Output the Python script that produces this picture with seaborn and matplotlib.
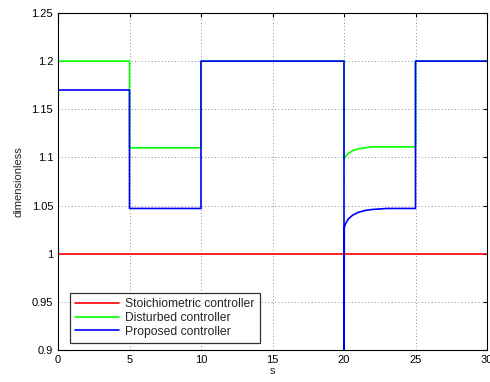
import matplotlib
matplotlib.use("Agg")
import matplotlib.pyplot as plt
import matplotlib.ticker as mticker
import seaborn as sns
import pandas as pd

sns.set_style("white")
plt.rcParams['font.family'] = ['Liberation Sans', 'DejaVu Sans']

# Time/value data (steps encoded with repeated time points)
t_stoich = [0, 30]
v_stoich = [1.0, 1.0]

t_dist = [0, 5, 5, 10, 10, 20, 20, 20.1, 20.3, 20.6, 21.0, 21.5, 22.0, 23.0, 25, 25, 30]
v_dist = [1.2, 1.2, 1.11, 1.11, 1.2, 1.2, 1.098, 1.101, 1.104, 1.107, 1.109, 1.110, 1.111, 1.111, 1.111, 1.2, 1.2]

t_prop = [0, 5, 5, 10, 10, 20, 20, 20.02, 20.1, 20.3, 20.6, 21.0, 21.5, 22.0, 23.0, 25, 25, 30]
v_prop = [1.17, 1.17, 1.047, 1.047, 1.2, 1.2, 0.80, 1.027, 1.031, 1.036, 1.040, 1.043, 1.045, 1.046, 1.047, 1.047, 1.2, 1.2]

labels = ["Stoichiometric controller", "Disturbed controller", "Proposed controller"]
colors = ["#ff0000", "#00ff00", "#0000ff"]

frames = []
for lab, t, v in zip(labels, [t_stoich, t_dist, t_prop], [v_stoich, v_dist, v_prop]):
    frames.append(pd.DataFrame({"t": t, "v": v, "series": lab}))
df = pd.concat(frames, ignore_index=True)

fig = plt.figure(figsize=(4.9, 3.82), dpi=100)
ax = fig.add_axes([58/490, 1 - 350/382, (487-58)/490, (350-13)/382])

sns.lineplot(data=df, x="t", y="v", hue="series", palette=colors, hue_order=labels,
             estimator=None, sort=False, units="series", ax=ax, linewidth=1.2)

ax.set_xlim(0, 30)
ax.set_ylim(0.9, 1.25)
ax.set_xticks([0, 5, 10, 15, 20, 25, 30])
ax.set_yticks([0.9, 0.95, 1.0, 1.05, 1.1, 1.15, 1.2, 1.25])
ax.yaxis.set_major_formatter(mticker.FuncFormatter(lambda v, p: f"{v:g}"))
ax.tick_params(direction="in", length=3, labelsize=8, colors="black", top=True, right=True)
ax.grid(True, linestyle=(0, (1, 3)), color="black", linewidth=0.6, alpha=0.6)
for s in ax.spines.values():
    s.set_color("black")
    s.set_linewidth(0.8)
ax.set_xlabel("s", fontsize=8, labelpad=1)
ax.set_ylabel("dimensionless", fontsize=8, labelpad=6)

leg = ax.legend(loc="lower left", bbox_to_anchor=(12/429, 7/337), borderaxespad=0,
                fontsize=8.7, frameon=True, fancybox=False, edgecolor="black",
                handlelength=3.6, handletextpad=0.5, borderpad=0.45, labelspacing=0.15)
leg.get_frame().set_linewidth(0.9)
leg.set_title(None)

fig.savefig("out.png", dpi=100)
